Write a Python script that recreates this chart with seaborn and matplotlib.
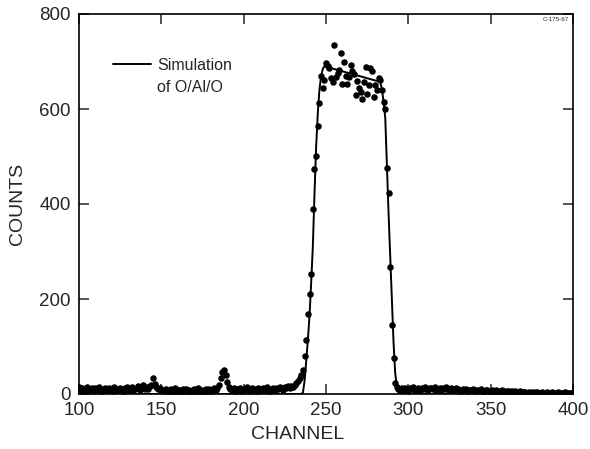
import numpy as np
import pandas as pd
import matplotlib
matplotlib.use("Agg")
import matplotlib.pyplot as plt
import seaborn as sns

# ---- measured data (counts per channel, channels 100..400) ----
base_a = [15, 9, 12, 7, 11, 14, 8, 10, 13, 6, 12, 9, 15, 10, 7, 11, 13, 8, 12, 10,
          6, 14, 9, 11, 8, 13, 10, 7, 12, 15, 9, 11, 14, 8, 10, 13, 16, 9, 12, 18,
          11, 14, 10, 17, 20]                                  # 100-144
bump_145 = [33, 22, 14, 10, 12, 8]                             # 145-150
base_b = [9, 6, 11, 8, 5, 10, 7, 12, 6, 9, 8, 4, 10, 7, 11, 6, 9, 5, 8, 10,
          6, 12, 7, 9, 5, 8, 11, 6, 10, 7, 9, 13, 8, 12]       # 151-184
peak_188 = [20, 34, 47, 50, 40, 26, 15, 10]                    # 185-192
base_c = [8, 12, 6, 10, 9, 13, 7, 11, 8, 14, 10, 6, 12, 9, 11, 7, 13, 10, 8, 12,
          9, 14, 11, 7, 10, 13, 8, 12, 10, 15, 11, 9, 14, 12, 16, 13]  # 193-228
foot = [17, 15, 20, 24, 28, 33, 40]                            # 229-235
rise = [50, 81, 114, 168, 211, 253, 390, 474, 500, 565, 613]   # 236-246
plateau = [670, 645, 661, 697, 690, 687, 665, 657, 735, 668, 675, 682, 717, 652,
           698, 670, 653, 667, 693, 679, 673, 629, 659, 645, 636, 622, 656, 688,
           631, 651, 686, 681, 625, 651, 640, 665, 661]         # 247-283
fall = [640, 615, 600, 475, 424, 268, 145, 75, 23, 14]         # 284-293
tail_a = [10, 8, 12, 9, 13, 11, 7, 12, 10, 14, 9, 11, 13, 8, 12, 10, 15, 11, 9, 13,
          12, 10, 14, 8, 11, 13, 9, 12, 10, 14, 11, 8, 12, 10, 9, 13, 11]  # 294-330
tail_b = [9, 7, 10, 8, 11, 6, 9, 8, 10, 7, 9, 6, 8, 10, 7, 5, 9, 8, 6, 7,
          9, 5, 8, 6, 7, 4, 8, 6, 5, 7, 6, 4, 7, 5, 6, 3, 5, 6, 4, 5]      # 331-370
tail_c = [4, 3, 5, 2, 4, 3, 5, 4, 2, 3, 4, 2, 3, 5, 3, 2, 4, 3, 2, 3,
          4, 2, 3, 2, 4, 3, 2, 3, 2, 3]                                    # 371-400

counts = (base_a + bump_145 + base_b + peak_188 + base_c + foot + rise +
          plateau + fall + tail_a + tail_b + tail_c)
channels = list(range(100, 100 + len(counts)))

# simulation of O/Al/O
sim_channel = [100, 234, 235, 236, 237, 238, 239, 240, 241, 242, 243, 244, 245,
               246, 247, 248, 249, 283, 284, 285, 286, 287, 288, 289, 290, 291,
               292, 293, 294, 295, 400]
sim_counts = [0, 0, 0, 3, 28, 70, 115, 165, 235, 310, 420, 520, 590, 640, 668,
              684, 690, 657, 640, 615, 580, 480, 380, 290, 200, 110, 45, 15, 4,
              0, 0]

x_ticks = [100, 150, 200, 250, 300, 350, 400]
y_ticks = [0, 200, 400, 600, 800]

data = pd.DataFrame({"channel": channels, "counts": counts})
sim = pd.DataFrame({"channel": sim_channel, "counts": sim_counts})

sns.set_theme(style="ticks")
plt.rcParams["font.family"] = ["Liberation Sans", "DejaVu Sans"]

fig = plt.figure(figsize=(5.9, 4.49), dpi=100)
ax = fig.add_axes([79 / 590, 55 / 449, 494 / 590, 380 / 449])

sns.lineplot(data=sim, x="channel", y="counts", ax=ax, color="black",
             linewidth=1.4, label="Simulation", zorder=3)
sns.scatterplot(data=data, x="channel", y="counts", ax=ax, color="black",
                s=22, linewidth=0, zorder=4)

ax.set_xlim(100, 400)
ax.set_ylim(0, 800)
ax.set_xticks(x_ticks)
ax.set_yticks(y_ticks)
ax.tick_params(direction="in", length=7, width=1.1, labelsize=13.5,
               top=True, right=True, pad=6)
ax.tick_params(axis="x", labeltop=False)
ax.tick_params(axis="y", labelright=False)
for sp in ax.spines.values():
    sp.set_linewidth(1.2)
    sp.set_color("black")

ax.set_xlabel("CHANNEL", fontsize=14)
ax.set_ylabel("COUNTS", fontsize=14)
ax.xaxis.set_label_coords(0.442, -0.085)
ax.yaxis.set_label_coords(-0.107, 0.5)

leg = ax.legend(loc="upper left", bbox_to_anchor=(0.0688, 0.884),
                frameon=False, fontsize=11.5, handlelength=2.4,
                handletextpad=0.35, borderpad=0, borderaxespad=0)

ax.text(0.158, 0.796, "of O/Al/O", transform=ax.transAxes, fontsize=11.5,
        ha="left", va="baseline")

ax.text(0.992, 0.993, "C-175-67", transform=ax.transAxes, fontsize=4.5,
        ha="right", va="top")

fig.savefig("out.png", dpi=100)
